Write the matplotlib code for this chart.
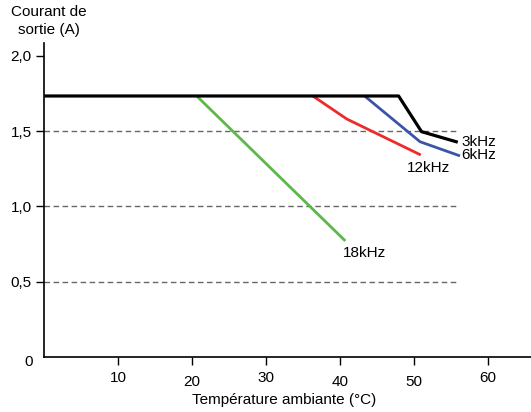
import matplotlib
matplotlib.use("Agg")
import matplotlib.pyplot as plt
import matplotlib.transforms as mtransforms

plt.rcParams['font.family'] = ['Liberation Sans', 'DejaVu Sans']

# Data (temperature °C, output current A)
x_3k = [0, 47.9, 51.0, 55.9]
y_3k = [1.734, 1.734, 1.497, 1.427]
x_6k = [43.3, 50.8, 56.2]
y_6k = [1.734, 1.43, 1.336]
x_12k = [36.3, 40.9, 50.9]
y_12k = [1.734, 1.581, 1.342]
x_18k = [20.6, 40.7]
y_18k = [1.734, 0.771]

xticks = [10, 20, 30, 40, 50, 60]
xtick_labels = ['10', '20', '30', '40', '50', '60']
yticks = [0.5, 1.0, 1.5, 2.0]
ytick_labels = ['0,5', '1,0', '1,5', '2,0']
grid_levels = [0.5, 1.0, 1.5]

FS = 11
W, H = 531, 412
fig = plt.figure(figsize=(W / 100, H / 100), dpi=100)
left_px, bottom_px, top_px = 44.3, 357, 42.7
ax = fig.add_axes([left_px / W, (H - bottom_px) / H, 1 - left_px / W, (bottom_px - top_px) / H])
ax.set_xlim(0, 65.8)
ax.set_ylim(0, 2.088)

for s in ['top', 'right']:
    ax.spines[s].set_visible(False)
for s in ['left', 'bottom']:
    ax.spines[s].set_linewidth(1.2)

for g in grid_levels:
    ax.plot([0, 56], [g, g], color='#666666', lw=1.0, ls=(0, (4, 2.5)), zorder=1)

ax.plot(x_18k, y_18k, color='#5cb848', lw=2.0, zorder=3, solid_capstyle='butt')
ax.plot(x_12k, y_12k, color='#ee2b2b', lw=2.0, zorder=3, solid_capstyle='butt')
ax.plot(x_6k, y_6k, color='#3a55a6', lw=2.0, zorder=3, solid_capstyle='butt')
ax.plot(x_3k, y_3k, color='black', lw=2.3, zorder=4, solid_capstyle='butt')

ax.set_xticks(xticks)
ax.set_xticklabels(xtick_labels, fontsize=FS)
ax.set_yticks(yticks)
ax.set_yticklabels(ytick_labels, fontsize=FS)
ax.tick_params(axis='x', direction='out', length=6, width=1, pad=4)
ax.tick_params(axis='y', direction='out', length=6, width=1, pad=3)

# staggered x labels
offs = [0, -3, 0, -3, -3, 0]
for lab, o in zip(ax.get_xticklabels(), offs):
    lab.set_transform(lab.get_transform() + mtransforms.ScaledTranslation(0, o / 72, fig.dpi_scale_trans))

ax.text(-1.6, -0.03, '0', ha='right', va='center', fontsize=FS, transform=ax.transData)

fig.text(49 / W, 1 - 12 / H, 'Courant de', ha='center', va='center', fontsize=FS)
fig.text(49 / W, 1 - 30 / H, 'sortie (A)', ha='center', va='center', fontsize=FS)
fig.text(284 / W, 1 - 400 / H, 'Température ambiante (°C)', ha='center', va='center', fontsize=FS)

ax.text(56.4, 1.43, '3kHz', ha='left', va='center', fontsize=FS)
ax.text(56.4, 1.345, '6kHz', ha='left', va='center', fontsize=FS)
ax.text(49.0, 1.255, '12kHz', ha='left', va='center', fontsize=FS)
ax.text(40.4, 0.69, '18kHz', ha='left', va='center', fontsize=FS)

fig.savefig('out.png', dpi=100)
